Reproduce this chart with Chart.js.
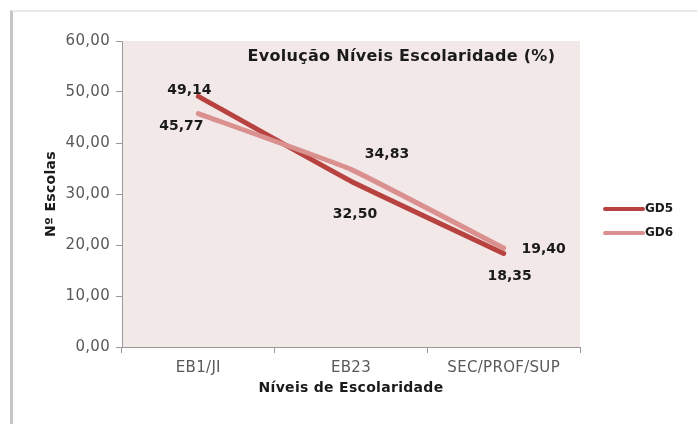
<!DOCTYPE html>
<html>
<head>
<meta charset="utf-8">
<script src="https://cdn.jsdelivr.net/npm/chart.js@4"></script>
<style>
  html, body { margin: 0; padding: 0; background: #ffffff; }
  #wrap { position: relative; width: 697px; height: 424px; overflow: hidden; }
  #frame { position: absolute; left: 10px; top: 10px; width: 700px; height: 420px;
           border-left: 3px solid #c6c6c6; border-top: 2px solid #e8e8e8; }
  canvas { position: absolute; left: 0; top: 0; }
</style>
</head>
<body>
<div id="wrap">
  <div id="frame"></div>
  <canvas id="c" width="697" height="424"></canvas>
</div>
<script>
const categories = ['EB1/JI', 'EB23', 'SEC/PROF/SUP'];
const gd5Values = [49.14, 32.50, 18.35];
const gd6Values = [45.77, 34.83, 19.40];
const seriesNames = ['GD5', 'GD6'];
const yMin = 0, yMax = 60, yStep = 10;
const chartTitle = 'Evolução Níveis Escolaridade (%)';
const xAxisTitle = 'Níveis de Escolaridade';
const yAxisTitle = 'Nº Escolas';

const FONT = '"DejaVu Sans", Verdana, sans-serif';
const fmt = v => Number(v).toFixed(2).replace('.', ',');

// label placement relative to each point (dx, dy) per dataset
const labelOffsets = [
  [[-9, -6], [4, 33], [6, 23]],
  [[-17, 13], [36, -15], [40, 1]]
];

const bgPlugin = {
  id: 'plotBg',
  beforeDraw(chart) {
    const {ctx, chartArea: a} = chart;
    ctx.save();
    ctx.fillStyle = '#f3e8e8';
    ctx.fillRect(a.left, a.top, a.right - a.left, a.bottom - a.top);
    ctx.restore();
    ctx.letterSpacing = '0.3px';
  }
};

const extrasPlugin = {
  id: 'extras',
  afterDatasetsDraw(chart) {
    const {ctx, chartArea: a} = chart;
    ctx.save();
    // title inside plot area
    ctx.letterSpacing = '0.3px';
    ctx.font = 'bold 16px ' + FONT;
    ctx.fillStyle = '#1a1a1a';
    ctx.textAlign = 'center';
    ctx.textBaseline = 'middle';
    ctx.fillText(chartTitle, a.left + (a.right - a.left) * 0.61, a.top + 16);
    // data labels
    ctx.letterSpacing = '0px';
    ctx.font = 'bold 14px ' + FONT;
    chart.data.datasets.forEach((ds, di) => {
      const meta = chart.getDatasetMeta(di);
      meta.data.forEach((pt, i) => {
        const off = labelOffsets[di][i];
        ctx.fillText(fmt(ds.data[i]), pt.x + off[0], pt.y + off[1]);
      });
    });
    // legend
    ctx.font = 'bold 12px ' + FONT;
    ctx.textAlign = 'left';
    chart.data.datasets.forEach((ds, di) => {
      const y = 209 + di * 24;
      ctx.strokeStyle = ds.borderColor;
      ctx.lineWidth = 4;
      ctx.lineCap = 'round';
      ctx.beginPath();
      ctx.moveTo(605, y);
      ctx.lineTo(643, y);
      ctx.stroke();
      ctx.fillStyle = '#1a1a1a';
      ctx.fillText(ds.label, 645, y);
    });
    ctx.restore();
  }
};

new Chart(document.getElementById('c'), {
  type: 'line',
  data: {
    labels: categories,
    datasets: [
      { label: seriesNames[0], data: gd5Values, borderColor: '#b7423f', backgroundColor: '#b7423f',
        borderWidth: 5, tension: 0.1, pointRadius: 0, borderCapStyle: 'round', order: 1 },
      { label: seriesNames[1], data: gd6Values, borderColor: '#d9908e', backgroundColor: '#d9908e',
        borderWidth: 5, tension: 0.1, pointRadius: 0, borderCapStyle: 'round', order: 0 }
    ]
  },
  options: {
    responsive: false,
    animation: false,
    events: [],
    layout: { padding: { left: 12, top: 41, right: 117, bottom: 0 } },
    plugins: { legend: { display: false }, title: { display: false }, tooltip: { enabled: false } },
    scales: {
      x: {
        type: 'category',
        offset: true,
        grid: { offset: true, drawOnChartArea: false, drawTicks: true, tickLength: 6, color: '#9a9a9a' },
        border: { display: true, color: '#9a9a9a', width: 1 },
        ticks: { color: '#595959', font: { family: FONT, size: 15 }, padding: 6, maxRotation: 0 },
        title: { display: true, text: xAxisTitle, color: '#1a1a1a',
                 font: { family: FONT, size: 14, weight: 'bold' }, padding: { top: 0, bottom: 27 } },
        afterFit(scale) { scale.height = 77; }
      },
      y: {
        min: yMin, max: yMax,
        grid: { drawOnChartArea: false, drawTicks: true, tickLength: 6, color: '#9a9a9a' },
        border: { display: true, color: '#9a9a9a', width: 1 },
        ticks: { stepSize: yStep, color: '#595959', font: { family: FONT, size: 15 }, padding: 6,
                 callback: v => fmt(v) },
        title: { display: true, text: yAxisTitle, color: '#1a1a1a',
                 font: { family: FONT, size: 14, weight: 'bold' }, padding: { top: 31, bottom: 0 } },
        afterFit(scale) { scale.width = 110; }
      }
    }
  },
  plugins: [bgPlugin, extrasPlugin]
});
</script>
</body>
</html>
